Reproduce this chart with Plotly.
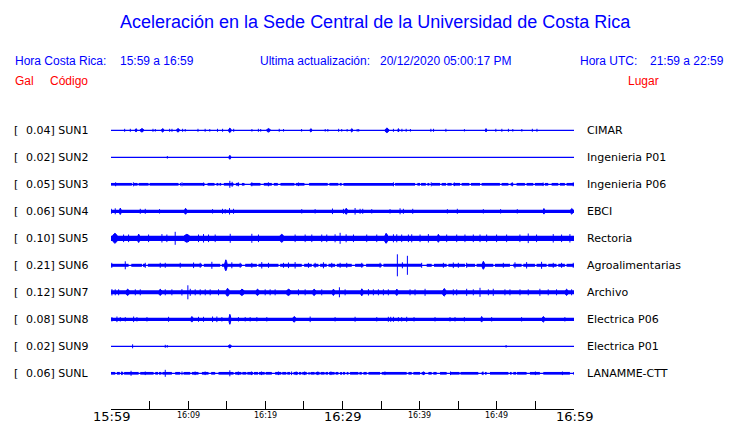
import plotly.graph_objects as go

# ---------------- data ----------------
stations = ["SUN1", "SUN2", "SUN3", "SUN4", "SUN5", "SUN6", "SUN7", "SUN8", "SUN9", "SUNL"]
gal_max = ["0.04", "0.02", "0.05", "0.06", "0.10", "0.21", "0.12", "0.08", "0.02", "0.06"]
places = ["CIMAR", "Ingenieria P01", "Ingenieria P06", "EBCI", "Rectoria", "Agroalimentarias",
          "Archivo", "Electrica P06", "Electrica P01", "LANAMME-CTT"]
# background noise half-amplitude (relative units, 27 units = trace spacing)
noise_half = [0.65, 0.65, 1.35, 1.65, 2.65, 1.5, 2.0, 1.65, 0.65, 1.35]

tick_minutes = [0, 5, 10, 15, 20, 25, 30, 35, 40, 45, 50, 55, 60]
tick_labels_major = {0: "15:59", 30: "16:29", 60: "16:59"}
tick_labels_minor = {10: "16:09", 20: "16:19", 40: "16:39", 50: "16:49"}

# bursts: (minute, half-amplitude[, duration in minutes])
bursts_SUN1 = [(1.77, 1.5), (2.5, 1.5), (3.24, 1.7, 0.3), (4.0, 1.7, 0.6), (5.44, 1.5), (5.74, 1.3),
               (6.69, 1.7, 0.4), (7.6, 1.5), (7.9, 1.5), (8.68, 1.7, 0.5), (9.28, 1.5), (9.62, 1.3),
               (11.27, 1.5), (12.2, 1.5), (12.8, 1.3), (13.8, 1.5), (14.46, 1.5), (15.4, 2.3, 0.4),
               (15.9, 1.5), (18.26, 1.3), (19.1, 1.5), (19.4, 1.3), (20.4, 1.8, 0.6), (21.8, 1.5),
               (22.36, 1.3), (24.7, 1.3), (25.9, 1.7, 0.3), (27.76, 1.3), (28.1, 1.3), (29.5, 1.5),
               (29.9, 1.3), (30.6, 1.3), (31.2, 1.7, 0.3), (31.9, 1.3), (32.1, 1.3), (35.75, 2.3, 0.6),
               (36.6, 1.5), (37.25, 1.7, 0.2), (37.7, 1.5), (38.25, 1.5), (38.8, 1.3), (41.45, 1.5),
               (41.8, 1.5), (43.4, 1.5), (45.8, 1.2), (48.6, 1.7, 0.2), (49.87, 1.5), (50.65, 1.5),
               (51.5, 1.5), (52.07, 1.3), (53.24, 1.3), (54.6, 1.5), (55.2, 1.5)]
bursts_SUN2 = [(7.3, 1.3), (15.4, 2.0, 0.3)]
bursts_SUN3 = [(0.6, 2.0), (2.9, 2.0), (9.2, 2.0), (12.0, 1.8), (15.4, 3.5), (15.7, 2.5), (16.5, 2.0),
               (18.25, 2.0), (20.4, 2.0), (24.3, 1.8), (36.6, 2.0), (41.5, 2.0), (44.5, 1.8),
               (52.0, 2.0), (56.0, 1.8), (59.9, 2.0)]
bursts_SUN4 = [(0.04, 2.5), (0.55, 3.0), (1.2, 3.2, 0.3), (3.79, 2.5), (4.44, 2.5), (6.29, 2.2),
               (9.66, 3.0, 0.4), (13.16, 2.2), (14.45, 2.5), (14.8, 2.2), (15.36, 3.2), (15.88, 2.5),
               (24.72, 2.2), (26.45, 2.2), (28.7, 2.8), (30.12, 2.5), (30.47, 3.0, 0.5), (31.63, 3.3),
               (32.28, 2.5), (32.62, 2.5), (33.79, 2.2), (36.16, 2.2), (37.46, 3.0), (37.89, 2.5),
               (39.1, 2.5), (43.59, 2.2), (44.88, 2.5), (48.25, 2.2), (50.49, 2.2), (52.65, 2.2),
               (56.1, 2.8, 0.3), (59.7, 2.8, 0.5)]
bursts_SUN5 = [(0.51, 5.0, 0.9), (1.63, 3.8), (2.28, 3.8), (3.58, 4.2, 0.4), (4.87, 3.8), (6.6, 4.2),
               (7.24, 3.8), (8.32, 6.5), (9.83, 4.0, 1.2), (11.34, 3.8), (11.99, 4.2), (12.64, 3.8),
               (13.5, 3.8), (15.45, 4.5), (18.25, 4.5), (19.11, 3.8), (22.13, 4.0, 0.8), (23.86, 3.8),
               (25.16, 3.8), (26.02, 3.8), (27.31, 3.8), (27.96, 3.8), (29.04, 4.0), (29.69, 5.5),
               (30.47, 4.0), (31.42, 3.8), (33.14, 3.8), (34.44, 3.8), (35.65, 5.0, 0.6), (36.6, 4.0),
               (37.03, 4.0), (37.67, 3.8), (38.54, 3.8), (38.97, 4.0), (40.05, 3.8), (41.13, 4.2),
               (42.42, 4.0, 0.4), (43.5, 3.8), (44.8, 3.8), (45.87, 3.8), (46.95, 3.8), (47.82, 3.8),
               (48.68, 3.8), (49.97, 3.8), (51.27, 3.8), (52.99, 3.8), (54.07, 4.8), (55.15, 3.8),
               (57.31, 4.2), (58.39, 3.8), (59.47, 4.2)]
bursts_SUN6 = [(0.1, 2.5), (1.85, 4.0), (4.44, 2.5), (6.38, 2.5), (7.03, 2.5), (8.97, 2.5), (10.7, 2.8),
               (11.56, 2.5), (13.07, 3.5), (14.88, 5.5, 0.4), (15.66, 3.0), (16.74, 2.5), (18.25, 2.5),
               (19.54, 3.2), (20.41, 2.5), (22.35, 2.5), (23.0, 2.8), (23.86, 3.2), (25.59, 2.5),
               (26.45, 2.5), (27.53, 3.0), (28.61, 2.5), (29.69, 2.5), (30.55, 2.5), (32.5, 2.5),
               (34.87, 2.5), (37.11, 11.0), (37.76, 3.0), (38.41, 9.5), (40.26, 2.5), (43.07, 2.5),
               (44.36, 2.8), (45.01, 2.5), (46.09, 2.5), (48.25, 4.0, 0.4), (50.84, 2.5), (52.35, 3.0),
               (53.86, 3.2), (55.8, 3.5), (57.31, 2.5), (58.39, 2.5), (59.9, 2.5)]
bursts_SUN7 = [(0.12, 3.2), (0.55, 3.0), (0.99, 3.0), (2.15, 3.2, 0.6), (3.15, 3.0), (3.79, 3.0),
               (6.38, 3.2, 0.5), (7.03, 3.0), (7.89, 3.0), (9.19, 3.2), (9.96, 7.0), (10.27, 3.5),
               (10.91, 3.0), (11.56, 3.0), (12.21, 3.0), (12.85, 3.0), (13.93, 3.0), (15.1, 4.0, 0.6),
               (16.96, 3.2, 0.8), (18.98, 3.2, 0.6), (19.98, 3.0), (20.62, 3.0), (21.27, 3.0),
               (22.99, 3.2, 0.8), (24.29, 3.0), (25.16, 3.0), (26.32, 3.2, 0.6), (27.31, 3.0),
               (28.82, 3.2, 0.4), (29.6, 5.0), (30.34, 3.0), (32.5, 3.5, 0.4), (33.36, 3.2), (34.0, 3.0),
               (34.65, 3.0), (35.3, 3.0), (35.94, 3.0), (37.03, 3.2, 0.4), (38.75, 3.0), (39.4, 3.0),
               (40.7, 3.5), (43.18, 3.8, 0.6), (44.36, 3.0), (44.8, 3.0), (46.09, 3.5), (46.95, 3.0),
               (47.82, 4.5), (48.9, 3.0), (49.54, 3.5), (51.05, 3.0), (51.7, 3.0), (53.0, 3.0),
               (54.07, 3.0), (55.58, 3.5), (56.66, 3.0), (57.74, 3.0), (59.04, 3.2, 0.5), (59.69, 3.0)]
bursts_SUN8 = [(0.12, 2.2), (0.77, 2.8), (1.2, 2.2), (1.85, 2.2), (2.93, 2.8), (3.36, 2.2), (4.66, 2.2),
               (7.46, 2.5), (10.48, 2.8, 0.4), (11.34, 2.5), (11.99, 2.5), (13.16, 2.8), (13.72, 2.8),
               (14.37, 2.2), (15.4, 5.0, 0.3), (16.52, 2.2), (17.39, 2.2), (18.03, 2.2), (18.9, 2.2),
               (20.19, 2.2), (23.73, 2.8, 0.6), (25.81, 2.8), (29.04, 2.2), (31.63, 2.5), (34.44, 2.2),
               (35.94, 2.5), (36.25, 2.5), (36.6, 2.5), (37.24, 2.2), (37.67, 2.2), (38.32, 2.5),
               (39.27, 2.2), (41.99, 2.2), (43.93, 2.2), (44.58, 2.2), (45.79, 2.2), (48.03, 2.8, 0.3),
               (49.33, 2.2), (53.21, 2.2), (56.02, 2.8, 0.5), (58.82, 2.2)]
bursts_SUN9 = [(2.8, 2.0), (7.03, 1.5), (7.29, 1.3), (15.4, 1.6, 0.5), (51.2, 1.3)]
bursts_SUNL = [(1.4, 1.8), (2.6, 2.5), (4.44, 1.8), (7.03, 3.5), (9.2, 1.8), (10.9, 1.8), (12.2, 1.8),
               (15.4, 3.0), (16.5, 1.8), (18.2, 1.8), (19.5, 1.8), (21.7, 1.8), (23.4, 1.8), (24.0, 1.8),
               (25.1, 1.8), (26.8, 1.8), (28.5, 1.8), (35.5, 1.8), (40.5, 1.8), (44.0, 1.8), (48.2, 1.8),
               (55.0, 1.8), (58.5, 1.8)]

# quiet intervals where the background band drops to the bare trace
gaps_SUN3 = [(2.71, 2.97), (3.45, 3.58), (4.87, 5.0), (8.75, 8.93), (9.1, 9.27), (12.12, 12.51),
             (13.42, 13.67), (13.93, 14.06), (14.28, 14.62), (15.88, 16.18), (16.61, 16.96),
             (17.3, 18.08), (19.37, 19.8), (20.84, 21.1), (21.62, 21.96), (23.77, 23.95),
             (25.07, 25.67), (28.09, 28.3), (29.47, 29.64), (29.9, 30.12), (36.6, 36.81),
             (39.4, 39.7), (40.05, 40.18), (40.8, 41.0), (41.26, 41.56), (42.64, 42.85),
             (43.41, 43.59), (44.15, 44.36), (45.23, 45.44), (46.44, 46.65), (47.82, 48.03),
             (50.4, 50.62), (51.5, 51.79), (52.13, 52.56), (53.64, 53.86), (54.72, 54.94),
             (56.02, 56.23), (56.66, 57.1), (57.96, 58.17), (58.82, 59.04)]
gaps_SUN6 = [(2.28, 2.63), (4.01, 4.14), (4.44, 4.78), (11.78, 12.03), (14.15, 14.37), (16.96, 17.39),
             (18.9, 19.11), (21.7, 21.92), (24.72, 25.03), (26.02, 26.23), (26.88, 27.1),
             (27.96, 28.18), (29.04, 29.26), (31.2, 31.63), (32.71, 33.06), (35.08, 35.3),
             (40.26, 40.91), (41.56, 41.86), (43.5, 43.72), (45.87, 46.09), (47.17, 47.38),
             (49.54, 49.76), (51.7, 52.13), (53.21, 53.43), (54.94, 55.15), (56.45, 56.66),
             (57.74, 57.96), (58.82, 59.04)]
gaps_SUNL = [(0.55, 0.77), (1.15, 1.3), (1.57, 1.7), (3.58, 3.79), (5.52, 5.73), (6.1, 6.22),
             (6.54, 6.66), (7.89, 8.32), (8.97, 9.4), (10.27, 10.48), (11.34, 11.78), (12.64, 12.98),
             (13.5, 13.93), (15.88, 16.09), (16.9, 17.02), (17.54, 17.66), (18.4, 18.52),
             (19.05, 19.17), (19.92, 20.04), (20.84, 21.27), (22.07, 22.19), (22.72, 22.84),
             (23.21, 23.65), (24.23, 24.35), (24.66, 24.78), (25.37, 25.59), (25.74, 25.86),
             (26.39, 26.51), (27.04, 27.16), (27.68, 27.8), (28.12, 28.24), (28.98, 29.1),
             (29.47, 29.69), (29.93, 30.05), (30.34, 30.55), (30.77, 30.98), (32.06, 32.19),
             (32.5, 32.71), (33.14, 33.36), (34.87, 35.08), (38.32, 38.54), (38.97, 39.18),
             (40.05, 40.26), (40.7, 41.13), (41.56, 41.77), (42.2, 42.64), (43.5, 43.93),
             (45.17, 45.29), (47.6, 48.03), (48.25, 48.46), (48.68, 49.11), (51.5, 51.7),
             (51.92, 52.13), (52.5, 52.62), (53.86, 54.29), (55.58, 56.02), (59.47, 59.9)]

bursts_all = [bursts_SUN1, bursts_SUN2, bursts_SUN3, bursts_SUN4, bursts_SUN5,
              bursts_SUN6, bursts_SUN7, bursts_SUN8, bursts_SUN9, bursts_SUNL]
gaps_all = [[], [], gaps_SUN3, [], [], gaps_SUN6, [], [], [], gaps_SUNL]

T_START, T_END = 0, 60
UNITS_PER_TRACE = 27.0
BLUE = "#0000FF"

# ---------------- layout geometry ----------------
W, H = 740, 423
L, R, T, B = 111, 166, 115, 14
PW, PH = W - L - R, H - T - B
first_trace_px = 130.3
y_top = (T - first_trace_px) / UNITS_PER_TRACE
y_bot = (H - B - first_trace_px) / UNITS_PER_TRACE


def px_x(px):
    return (px - L) / PW


def px_y(py):
    return 1 - (py - T) / PH


fig = go.Figure()

for i, st in enumerate(stations):
    # bare trace
    fig.add_trace(go.Scatter(x=[T_START, T_END], y=[i, i], mode="lines",
                             line=dict(color=BLUE, width=1.3), hoverinfo="skip", showlegend=False))
    # background band (interrupted by quiet gaps)
    if noise_half[i] > 0.8:
        xs, ys = [], []
        start = T_START
        for g0, g1 in gaps_all[i]:
            xs += [start, g0, None]
            ys += [i, i, None]
            start = g1
        xs += [start, T_END]
        ys += [i, i]
        fig.add_trace(go.Scatter(x=xs, y=ys, mode="lines",
                                 line=dict(color=BLUE, width=2 * noise_half[i]),
                                 hoverinfo="skip", showlegend=False))
    # bursts: single spikes as vertical strokes, longer bursts as spindles
    bx, by = [], []
    for b in bursts_all[i]:
        t, a = b[0], b[1]
        w = b[2] if len(b) > 2 else 0.0
        d = a / UNITS_PER_TRACE
        if w > 0:
            bx += [t - w / 2, t - w / 4, t, t + w / 4, t + w / 2,
                   t + w / 4, t, t - w / 4, t - w / 2, None]
            by += [i, i - 0.7 * d, i - d, i - 0.7 * d, i,
                   i + 0.7 * d, i + d, i + 0.7 * d, i, None]
        else:
            bx += [t, t, None]
            by += [i - d, i + d, None]
    fig.add_trace(go.Scatter(x=bx, y=by, mode="lines", fill="toself", fillcolor=BLUE,
                             line=dict(color=BLUE, width=1.0), hoverinfo="skip", showlegend=False))

annotations = []


def text(s, px, py, size, color, family, xanchor="left"):
    annotations.append(dict(text=s, x=px_x(px), y=px_y(py), xref="paper", yref="paper",
                            xanchor=xanchor, yanchor="middle", showarrow=False,
                            font=dict(size=size, color=color, family=family)))


SANS = "Liberation Sans"
DJ = "DejaVu Sans"
text("Aceleración en la Sede Central de la Universidad de Costa Rica", 375, 22, 18, BLUE, SANS, "center")
text("Hora Costa Rica:", 13, 61, 12, BLUE, SANS)
text("15:59 a 16:59", 118, 61, 12, BLUE, SANS)
text("Ultima actualización:", 258, 61, 12, BLUE, SANS)
text("20/12/2020 05:00:17 PM", 378, 61, 12, BLUE, SANS)
text("Hora UTC:", 578, 61, 12, BLUE, SANS)
text("21:59 a 22:59", 648, 61, 12, BLUE, SANS)
text("Gal", 13, 81, 12, "#FF0000", SANS)
text("Código", 48, 81, 12, "#FF0000", SANS)
text("Lugar", 626, 81, 12, "#FF0000", SANS)

for i, st in enumerate(stations):
    py = first_trace_px + 27 * i
    text("[", 12, py, 11, "black", DJ)
    text(gal_max[i] + "] " + st, 24, py, 11, "black", DJ)
    text(places[i], 585, py, 11, "black", DJ)

for m, lab in tick_labels_major.items():
    annotations.append(dict(text=lab, x=m, y=px_y(416), xref="x", yref="paper", xanchor="center",
                            yanchor="middle", showarrow=False,
                            font=dict(size=13, color="black", family=DJ)))
for m, lab in tick_labels_minor.items():
    annotations.append(dict(text=lab, x=m, y=px_y(415), xref="x", yref="paper", xanchor="center",
                            yanchor="middle", showarrow=False,
                            font=dict(size=8, color="black", family=DJ)))

fig.update_layout(
    width=W, height=H, margin=dict(l=L, r=R, t=T, b=B),
    paper_bgcolor="white", plot_bgcolor="white",
    annotations=annotations,
    xaxis=dict(range=[T_START, T_END], showgrid=False, zeroline=False, showline=True,
               linecolor="black", linewidth=1, ticks="inside", ticklen=8, tickcolor="black",
               tickwidth=1, tickvals=tick_minutes, showticklabels=False, fixedrange=True),
    yaxis=dict(range=[y_bot, y_top], showgrid=False, zeroline=False, showline=False,
               showticklabels=False, ticks="", fixedrange=True),
)

fig.write_html("out.html", config={"displayModeBar": False},
               post_script="document.body.style.margin='0px';document.body.style.overflow='hidden';")
